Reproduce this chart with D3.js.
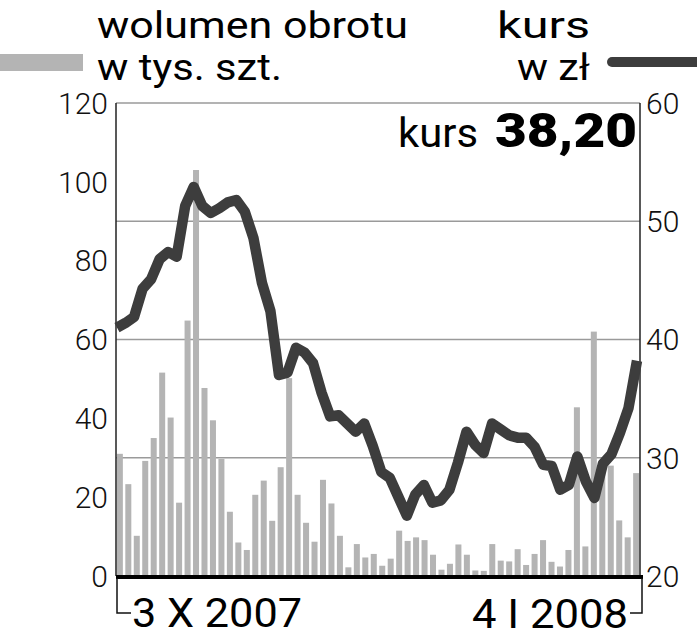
<!DOCTYPE html>
<html><head><meta charset="utf-8">
<script src="https://cdn.jsdelivr.net/npm/d3@7"></script>
<style>body{margin:0;background:#fff}</style>
</head><body>
<svg id="c" width="697" height="640"></svg>
<script>
// ---- data ----
const days = d3.range(1, 63); // 62 trading sessions
const volume = [31, 23.3, 10.2, 29.2, 35, 51.6, 40.2, 18.6, 64.8, 103,
  47.7, 39.5, 29.7, 16.3, 8.5, 6.6, 20.6, 24.2, 14, 27.6,
  50.2, 20.6, 13.5, 8.7, 24.4, 18.4, 10.2, 2.2, 8.1, 4.7,
  5.6, 2.6, 4.4, 11.5, 8.9, 9.8, 9.1, 5.4, 1.6, 3.1,
  8.0, 5.4, 1.4, 1.3, 8.1, 3.9, 3.7, 6.8, 2.8, 5.6,
  9.1, 3.6, 2.4, 6.6, 42.8, 7.5, 62, 28, 28, 14.1,
  9.8, 26.1];
const price = [41.0, 41.4, 41.9, 44.3, 45.1, 46.8, 47.4, 47.0, 51.3, 52.9,
  51.3, 50.7, 51.1, 51.6, 51.8, 50.8, 48.6, 44.8, 42.4, 37.0,
  37.2, 39.3, 38.9, 38.0, 35.5, 33.5, 33.6, 32.9, 32.2, 32.9,
  31.0, 28.8, 28.3, 26.7, 25.1, 26.9, 27.7, 26.2, 26.4, 27.3,
  29.6, 32.2, 31.1, 30.4, 32.9, 32.4, 31.9, 31.7, 31.7, 30.9,
  29.4, 29.3, 27.3, 27.7, 30.1, 28.0, 26.6, 29.5, 30.3, 32.1,
  34.2, 38.2];
const leftTicks = [0, 20, 40, 60, 80, 100, 120];
const rightTicks = [20, 30, 40, 50, 60];
const gridTicks = [30, 40, 50, 60];
const dateLabels = ["3 X 2007", "4 I 2008"];
const lastPrice = "38,20";

// ---- layout ----
const L = 116, R = 640, T = 103, B = 576;
const barColor = "#b4b4b4", lineColor = "#3d3d3d";
const svg = d3.select("#c");
const font = "Roboto, 'Liberation Sans', sans-serif";

const x = d3.scaleBand().domain(days).range([L, R]).paddingInner(0.29).paddingOuter(0.1);
const xp = d3.scalePoint().domain(days).range([117, 637]);
const yL = d3.scaleLinear().domain([0, 120]).range([B, T]);
const yR = d3.scaleLinear().domain([20, 60]).range([B, T]);

// gridlines
svg.append("g").selectAll("line").data(gridTicks).join("line")
  .attr("x1", L).attr("x2", R)
  .attr("y1", d => yR(d)).attr("y2", d => yR(d))
  .attr("stroke", "#9a9a9a").attr("stroke-width", 1.5);

// bars
svg.append("g").selectAll("rect").data(days).join("rect")
  .attr("x", d => x(d)).attr("width", x.bandwidth())
  .attr("y", (d, i) => yL(volume[i])).attr("height", (d, i) => B - yL(volume[i]))
  .attr("fill", barColor);

// axes lines
svg.append("line").attr("x1", L).attr("x2", L).attr("y1", T).attr("y2", B)
  .attr("stroke", "#222").attr("stroke-width", 1.5);
svg.append("line").attr("x1", R).attr("x2", R).attr("y1", T).attr("y2", B)
  .attr("stroke", "#222").attr("stroke-width", 1.5);

// price line
svg.append("path").datum(price)
  .attr("d", d3.line().x((d, i) => xp(days[i])).y(d => yR(d)))
  .attr("fill", "none").attr("stroke", lineColor).attr("stroke-width", 10.5)
  .attr("stroke-linejoin", "round").attr("stroke-linecap", "butt");

// bottom axis
svg.append("line").attr("x1", L).attr("x2", R + 3).attr("y1", B + 1).attr("y2", B + 1)
  .attr("stroke", "#000").attr("stroke-width", 4);

// tick labels
svg.append("g").selectAll("text").data(leftTicks).join("text")
  .attr("x", 108).attr("y", d => yL(d)).attr("dy", "0.36em")
  .attr("text-anchor", "end").attr("font-family", font).attr("font-weight", 300)
  .attr("font-size", 30).attr("fill", "#111").text(d => d);
svg.append("g").selectAll("text").data(rightTicks).join("text")
  .attr("x", 646).attr("y", d => yR(d)).attr("dy", "0.36em")
  .attr("text-anchor", "start").attr("font-family", font).attr("font-weight", 300)
  .attr("font-size", 30).attr("fill", "#111").text(d => d);

// date brackets
svg.append("path").attr("d", `M117,${B + 2}V613H131`).attr("fill", "none")
  .attr("stroke", "#111").attr("stroke-width", 1.5);
svg.append("path").attr("d", `M642,${B + 2}V613H630`).attr("fill", "none")
  .attr("stroke", "#111").attr("stroke-width", 1.5);
svg.append("text").attr("x", 132).attr("y", 627).attr("font-family", font)
  .attr("font-size", 40).attr("textLength", 170).attr("lengthAdjust", "spacingAndGlyphs")
  .attr("fill", "#000").text(dateLabels[0]);
svg.append("text").attr("x", 472).attr("y", 628).attr("font-family", font)
  .attr("font-size", 40).attr("textLength", 156).attr("lengthAdjust", "spacingAndGlyphs")
  .attr("fill", "#000").text(dateLabels[1]);

// current price label
svg.append("text").attr("x", 398).attr("y", 147).attr("font-family", font)
  .attr("font-size", 41).attr("textLength", 80).attr("lengthAdjust", "spacingAndGlyphs")
  .attr("fill", "#000").text("kurs");
svg.append("text").attr("x", 495).attr("y", 147).attr("font-family", font)
  .attr("font-weight", 900).attr("font-size", 49).attr("textLength", 142)
  .attr("lengthAdjust", "spacingAndGlyphs").attr("fill", "#000").text(lastPrice);

// legend
svg.append("rect").attr("x", 0).attr("y", 54).attr("width", 83).attr("height", 17).attr("fill", barColor);
svg.append("text").attr("x", 97).attr("y", 38).attr("font-family", font).attr("font-size", 37)
  .attr("textLength", 311).attr("lengthAdjust", "spacingAndGlyphs").attr("fill", "#000").text("wolumen obrotu");
svg.append("text").attr("x", 97).attr("y", 80).attr("font-family", font).attr("font-size", 37)
  .attr("textLength", 185).attr("lengthAdjust", "spacingAndGlyphs").attr("fill", "#000").text("w tys. szt.");
svg.append("text").attr("x", 497).attr("y", 38).attr("font-family", font).attr("font-size", 37)
  .attr("textLength", 93).attr("lengthAdjust", "spacingAndGlyphs").attr("fill", "#000").text("kurs");
svg.append("text").attr("x", 517).attr("y", 80).attr("font-family", font).attr("font-size", 37)
  .attr("textLength", 73).attr("lengthAdjust", "spacingAndGlyphs").attr("fill", "#000").text("w zł");
svg.append("line").attr("x1", 612).attr("x2", 697).attr("y1", 62).attr("y2", 62)
  .attr("stroke", lineColor).attr("stroke-width", 10).attr("stroke-linecap", "round");
</script>
</body></html>
